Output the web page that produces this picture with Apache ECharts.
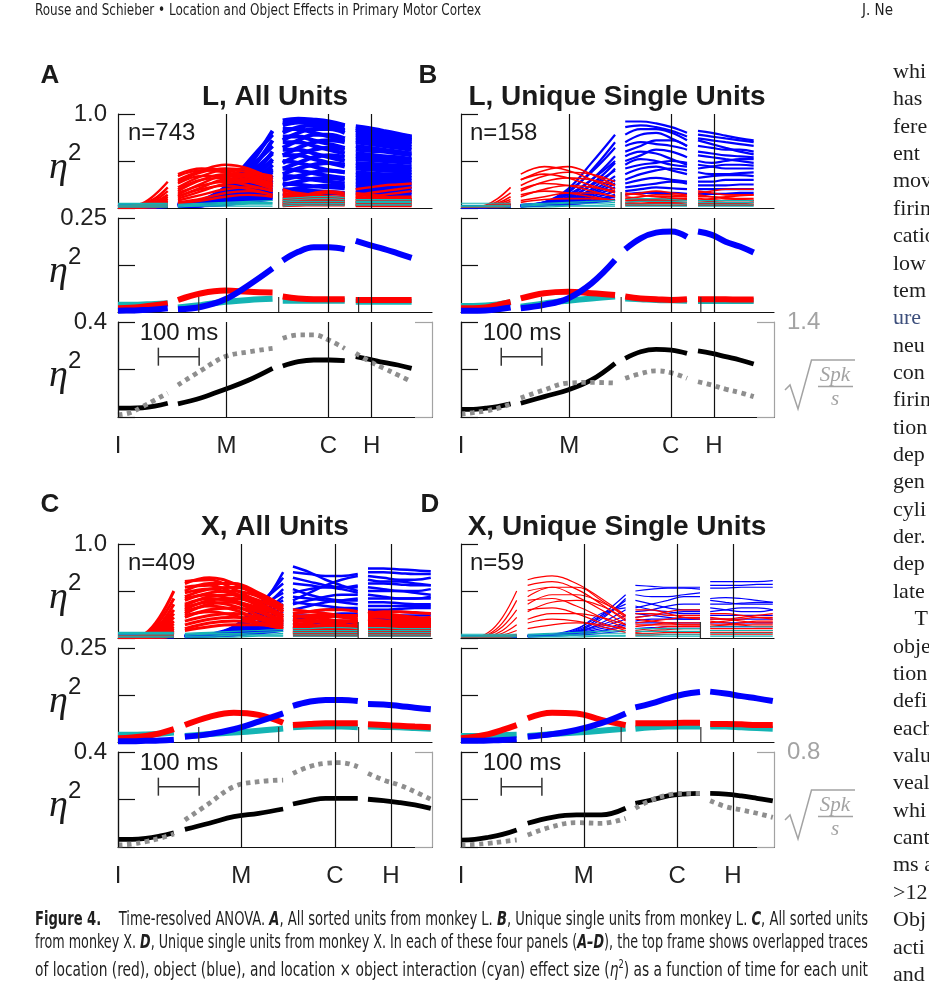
<!DOCTYPE html>
<html>
<head>
<meta charset="utf-8">
<script src="https://cdn.jsdelivr.net/npm/echarts@6.0.0/dist/echarts.min.js"></script>
<style>
  html, body { margin: 0; padding: 0; background: #fff; }
  #page { position: relative; width: 929px; height: 990px; overflow: hidden; background: #fff; }
  #chart { position: absolute; left: 0; top: 0; width: 929px; height: 990px; }
  .fit { position: absolute; white-space: nowrap; display: inline-block; transform-origin: 0 0; color: #1e1e1e; }
  .hdr { font: 15px 'Liberation Sans Narrow', 'DejaVu Sans Condensed', sans-serif; line-height: 18px; top: 1px; }
  .cap { font: 20px 'Liberation Sans Narrow', 'DejaVu Sans Condensed', sans-serif; line-height: 22px; left: 35px; }
  #col { position: absolute; left: 893px; top: 57px; font: 22px 'Liberation Serif', 'DejaVu Serif', serif; line-height: 27.36px; color: #1e1e1e; white-space: pre; }
</style>
</head>
<body>
<div id="page">
  <div id="chart"></div>
  <div class="fit hdr" id="hdr" style="left:35px" data-w="446">Rouse and Schieber &#8226; Location and Object Effects in Primary Motor Cortex</div>
  <div class="fit hdr" style="left:862px">J. Ne</div>
  <div class="fit cap" style="top:907px" data-w="833"><b>Figure 4.</b><span style="display:inline-block;width:24px"></span>Time-resolved ANOVA. <b><i>A</i></b>, All sorted units from monkey L. <b><i>B</i></b>, Unique single units from monkey L. <b><i>C</i></b>, All sorted units</div>
  <div class="fit cap" style="top:930px" data-w="833">from monkey X. <b><i>D</i></b>, Unique single units from monkey X. In each of these four panels (<b><i>A&#8211;D</i></b>), the top frame shows overlapped traces</div>
  <div class="fit cap" style="top:953px" data-w="833">of location (red), object (blue), and location &#215; object interaction (cyan) effect size (<i>&#951;</i><sup style="font-size:12px">2</sup>) as a function of time for each unit</div>
  <div id="col">whi
has
fere
ent
mov
firin
catio
low
tem
<span style="color:#3d4f7c">ure</span>
neu
con
firin
tion
dep
gen
cyli
der.
dep
late
    T
obje
tion
defi
each
valu
veal
whi
cant
ms a
&gt;12
Obj
acti
and</div>
</div>
<script>
// time samples (ms from instruction) for the four aligned segments, 5 per segment
const tL = [0, 30, 60, 90, 122, 147, 205, 263, 321, 379, 404, 442, 480, 518, 556, 583, 617, 651, 686, 720];
const tX = [0, 34, 68, 102, 137, 164, 224, 284, 345, 405, 429, 469, 509, 548, 588, 613, 651, 690, 728, 767];
const evL = { I: 0, M: 266, C: 516, H: 622 };
const evX = { I: 0, M: 302, C: 532, H: 669 };
const midStubs = [198, 394, 590];

// top frames: individual unit traces, eta^2 in percent
const topA_obj = [
  [2,2,2,3,3, 3,6,18,45,82, 93,95,94,92,88, 87,85,82,79,76],
  [2,2,3,3,3, 4,8,22,50,78, 90,92,92,90,87, 85,82,80,78,75],
  [1,1,2,2,3, 3,5,14,38,72, 88,91,90,87,83, 83,80,78,76,73],
  [2,2,2,2,3, 4,7,20,42,66, 80,86,88,86,82, 80,79,77,75,72],
  [1,1,1,2,2, 2,4,12,30,60, 84,84,80,76,72, 78,76,74,72,70],
  [2,2,2,3,3, 3,6,16,36,58, 72,80,84,84,80, 75,73,72,70,68],
  [1,2,2,2,2, 3,5,12,28,52, 76,76,72,68,64, 72,70,69,67,65],
  [2,2,2,2,3, 3,6,15,32,50, 64,72,78,78,74, 70,68,66,64,62],
  [1,1,2,2,2, 2,4,10,24,46, 70,70,66,62,58, 66,64,62,60,58],
  [2,2,2,3,3, 4,7,15,28,42, 56,64,70,72,70, 62,61,60,58,56],
  [1,1,1,2,2, 3,5,11,24,40, 62,62,58,54,50, 58,57,55,54,52],
  [2,2,2,2,3, 3,6,13,26,38, 48,56,62,64,62, 55,54,53,52,51],
  [1,1,2,2,2, 2,4,10,20,35, 56,56,52,48,44, 52,51,50,49,48],
  [2,2,2,3,3, 3,5,12,22,33, 42,48,54,56,54, 48,47,46,45,44],
  [1,1,1,2,2, 2,4,9,18,30, 50,48,44,40,38, 45,44,43,42,41],
  [2,2,2,2,3, 3,5,10,18,28, 36,42,46,48,46, 42,41,40,39,38],
  [1,1,2,2,2, 2,4,8,15,25, 42,40,37,34,32, 38,37,36,36,35],
  [2,2,2,3,3, 3,5,9,16,22, 30,34,38,40,38, 35,34,33,33,32],
  [1,1,1,2,2, 2,3,7,13,20, 34,33,30,28,26, 32,31,30,30,29],
  [2,2,2,2,3, 3,4,8,12,18, 24,28,31,32,30, 28,28,27,27,26],
  [1,1,2,2,2, 2,3,6,10,16, 26,25,23,22,21, 25,25,24,24,23],
  [2,2,2,2,2, 2,3,5,9,14, 18,21,23,24,23, 22,22,21,21,20],
  [1,1,1,2,2, 2,3,5,8,12, 20,19,18,17,16, 19,19,18,18,17],
  [1,1,1,1,2, 2,3,4,7,10, 13,15,16,16,15, 16,16,15,15,14]
];
const topA_loc = [
  [1,2,5,14,28, 30,40,46,42,30, 20,15,12,10,9, 10,12,14,16,18],
  [1,2,4,10,22, 28,38,42,40,32, 16,14,13,12,12, 12,11,10,10,9],
  [1,1,3,8,18, 34,40,38,32,24, 12,10,9,9,10, 14,16,18,20,22],
  [1,1,2,6,14, 36,42,40,34,26, 8,10,14,16,14, 8,8,9,10,10],
  [1,1,2,5,12, 22,34,40,38,34, 18,16,14,12,10, 20,22,24,25,26],
  [1,1,2,4,10, 18,30,36,36,30, 10,12,16,18,16, 12,14,12,10,8],
  [1,1,1,3,8, 26,34,34,30,22, 6,8,10,12,12, 6,6,7,8,8],
  [1,1,1,3,7, 14,26,34,34,28, 14,12,10,8,7, 16,14,12,10,9],
  [1,1,1,2,6, 20,30,32,28,20, 5,6,8,10,11, 5,6,6,7,7],
  [1,1,1,2,5, 12,22,30,30,26, 9,10,12,12,10, 10,10,11,12,12],
  [1,1,1,2,4, 16,24,28,24,18, 4,5,6,7,8, 4,4,5,5,6],
  [1,1,1,2,4, 10,18,26,28,24, 7,8,8,8,8, 8,8,8,8,8],
  [1,1,1,1,3, 12,20,24,20,14, 3,4,5,6,6, 3,3,4,4,4],
  [1,1,1,1,3, 8,14,20,22,18, 5,6,6,5,5, 6,6,6,6,6],
  [1,1,1,2,3, 6,10,16,18,14, 3,3,4,4,4, 3,3,3,3,3],
  [1,1,1,1,2, 5,8,12,14,12, 2,3,3,3,3, 2,2,2,2,2]
];
const topA_int = [
  [5,5,5,5,5, 4,5,6,7,8, 10,11,12,12,11, 9,9,9,9,9],
  [4,4,4,4,4, 3,4,5,6,6, 8,9,10,10,9, 7,7,7,7,7],
  [3,3,3,3,3, 3,3,4,5,5, 6,7,7,7,7, 6,6,6,6,6],
  [2,2,2,2,2, 2,3,3,4,4, 4,5,5,5,5, 4,4,4,4,4],
  [1,1,1,1,1, 1,2,2,2,2, 2,3,3,3,3, 3,3,3,3,3]
];

const topB_obj = [
  [2,2,2,2,3, 3,6,20,48,78, 92,92,90,86,80, 82,80,77,74,72],
  [1,1,2,2,2, 2,5,16,40,70, 86,88,86,82,76, 78,76,74,72,70],
  [2,2,2,3,3, 3,6,18,38,64, 78,84,84,80,72, 74,72,70,68,66],
  [1,1,1,2,2, 3,5,12,30,55, 70,78,80,74,66, 72,68,64,60,57],
  [2,2,2,2,3, 2,4,10,25,48, 66,70,68,66,62, 66,64,62,62,60],
  [1,2,2,2,2, 3,6,14,30,50, 60,66,72,72,66, 60,58,56,55,54],
  [2,2,2,2,3, 3,5,11,24,40, 55,60,58,52,46, 56,54,52,50,48],
  [1,1,1,2,2, 2,4,9,20,42, 50,56,62,60,54, 50,48,50,52,52],
  [2,2,2,2,2, 3,4,8,18,34, 46,52,50,46,44, 46,44,42,42,42],
  [1,1,2,2,2, 2,3,8,16,30, 42,46,48,50,48, 42,44,46,46,45],
  [2,2,2,2,3, 3,4,7,14,26, 36,42,44,40,36, 38,36,36,37,38],
  [1,1,1,2,2, 2,3,6,12,22, 30,36,40,42,40, 32,34,35,35,34],
  [2,2,2,2,2, 2,3,6,10,18, 26,30,32,30,28, 28,28,30,30,30],
  [1,1,1,1,2, 2,3,5,8,14, 22,24,26,28,26, 24,24,24,25,25],
  [2,2,2,2,2, 2,3,4,7,12, 18,20,22,21,20, 20,20,20,20,20],
  [1,1,1,1,2, 2,3,4,6,9, 14,16,16,16,15, 15,15,15,16,16]
];
const topB_loc = [
  [1,1,3,10,22, 30,40,44,36,24, 16,14,12,12,14, 16,18,20,20,20],
  [1,1,2,7,16, 36,44,40,30,20, 10,12,14,14,12, 12,12,11,10,10],
  [1,1,2,5,12, 24,34,38,36,28, 14,16,18,16,14, 18,16,14,14,14],
  [1,1,1,4,9, 30,36,32,24,16, 8,8,10,12,12, 8,10,12,13,14],
  [1,1,1,3,7, 18,28,32,30,24, 12,10,8,8,9, 14,12,10,9,8],
  [1,1,1,2,5, 20,26,24,18,12, 6,7,8,9,9, 6,7,8,8,8],
  [1,1,1,2,4, 12,20,24,22,18, 9,9,9,10,10, 10,9,8,8,8],
  [1,1,1,2,3, 14,18,16,12,8, 5,5,6,6,6, 5,5,5,5,6],
  [1,1,1,1,3, 8,12,16,16,12, 4,4,5,5,4, 4,4,4,4,4],
  [1,1,1,1,2, 6,9,10,10,8, 3,3,3,3,3, 3,3,3,3,3]
];
const topB_int = [
  [5,5,5,5,5, 4,5,6,7,8, 9,10,10,9,8, 8,8,8,8,8],
  [3,3,3,3,3, 3,4,5,5,6, 6,7,7,7,6, 6,6,6,6,6],
  [2,2,2,2,2, 2,3,3,3,4, 4,4,4,4,4, 4,4,4,4,4],
  [1,1,1,1,1, 1,1,2,2,2, 2,2,2,2,2, 2,2,2,2,2]
];

const topC_obj = [
  [2,2,2,2,2, 2,3,8,30,70, 76,70,62,56,50, 74,74,73,72,71],
  [1,1,2,2,2, 2,3,10,34,64, 70,68,66,66,68, 70,70,69,68,68],
  [2,2,2,2,3, 3,4,12,36,58, 64,60,56,54,54, 66,64,62,62,64],
  [1,1,1,2,2, 2,3,9,28,52, 40,48,56,62,66, 62,60,60,58,56],
  [2,2,2,2,2, 2,4,12,32,48, 58,56,54,54,56, 58,58,57,56,56],
  [1,1,1,2,2, 2,3,8,24,44, 48,52,54,52,48, 54,52,50,50,52],
  [2,2,2,2,2, 3,4,10,26,40, 52,46,42,40,40, 50,50,50,48,46],
  [1,1,1,1,2, 2,3,8,22,36, 36,40,44,46,46, 46,44,42,42,44],
  [2,2,2,2,2, 2,3,7,18,32, 44,42,40,38,36, 42,42,42,42,42],
  [1,1,1,2,2, 2,3,6,16,28, 30,34,38,40,42, 38,38,37,36,36],
  [2,2,2,2,2, 2,3,6,14,24, 38,36,34,32,30, 34,34,34,34,34],
  [1,1,1,1,2, 2,3,5,12,20, 26,28,30,32,32, 30,30,31,32,32],
  [2,2,2,2,2, 2,3,5,10,18, 24,24,24,24,24, 28,28,28,27,26],
  [1,1,1,1,2, 2,2,4,9,16, 20,22,24,26,26, 24,24,24,24,24],
  [1,1,1,2,2, 2,3,4,8,14, 18,18,18,18,18, 20,20,20,20,20],
  [1,1,1,1,1, 2,2,4,7,12, 14,15,16,16,16, 16,16,16,16,16],
  [1,1,1,1,1, 1,2,3,6,10, 12,12,12,12,12, 13,13,13,13,13],
  [1,1,1,1,1, 1,2,3,5,8, 9,10,10,10,10, 10,10,10,10,10]
];
const topC_loc = [
  [1,1,5,22,50, 58,64,58,44,28, 24,22,20,18,18, 22,22,20,20,20],
  [1,1,4,18,42, 60,62,52,38,24, 18,20,22,24,24, 16,16,18,20,22],
  [1,1,3,14,36, 50,58,58,48,34, 30,28,26,24,22, 28,26,24,22,20],
  [1,1,3,12,30, 54,56,48,36,20, 14,16,18,18,16, 26,28,28,27,26],
  [1,1,2,10,26, 44,52,54,46,30, 26,28,30,30,28, 14,14,15,16,16],
  [1,1,2,8,22, 48,52,46,34,22, 12,12,14,16,18, 20,18,16,16,18],
  [1,1,2,7,18, 40,48,50,44,32, 20,18,16,14,12, 12,12,13,14,14],
  [1,1,2,6,15, 42,46,40,30,18, 10,12,12,10,10, 24,24,22,20,18],
  [1,1,1,5,12, 34,44,46,40,28, 22,24,24,22,20, 10,10,11,12,12],
  [1,1,1,4,10, 36,42,38,28,16, 8,8,10,12,14, 18,18,18,18,18],
  [1,1,1,3,8, 30,40,42,36,24, 16,14,12,11,10, 8,8,9,10,10],
  [1,1,1,3,7, 32,38,34,24,14, 6,7,8,9,10, 16,16,15,15,14],
  [1,1,1,2,6, 26,36,38,32,22, 18,18,18,18,16, 7,7,7,8,8],
  [1,1,1,2,5, 28,34,30,20,12, 5,6,6,7,8, 12,12,12,12,12],
  [1,1,1,2,4, 22,30,32,28,18, 12,12,12,12,12, 6,6,6,6,6],
  [1,1,1,2,4, 24,28,24,16,10, 4,5,5,6,6, 10,10,10,10,10],
  [1,1,1,2,3, 18,24,26,22,16, 9,9,9,8,8, 5,5,5,5,5],
  [1,1,1,1,3, 14,20,22,20,14, 6,6,7,7,7, 8,8,8,8,8],
  [1,1,1,1,2, 10,16,18,16,12, 4,4,5,5,5, 4,4,4,4,4],
  [1,1,1,1,2, 8,12,14,14,10, 3,3,3,3,3, 3,3,3,3,3]
];
const topC_int = [
  [6,6,6,6,6, 5,6,7,8,9, 10,10,11,11,10, 11,11,10,10,10],
  [5,5,5,5,5, 4,5,5,6,7, 8,8,8,8,8, 8,8,8,8,8],
  [4,4,4,4,4, 3,4,4,4,5, 6,6,6,6,6, 6,6,6,6,6],
  [2,2,2,2,2, 2,2,3,3,3, 4,4,4,4,4, 4,4,4,4,4],
  [1,1,1,1,1, 1,1,1,2,2, 2,2,2,2,2, 2,2,2,2,2]
];

const topD_obj = [
  [2,2,2,2,2, 2,3,6,24,46, 56,55,54,54,54, 60,60,60,60,61],
  [1,1,1,2,2, 2,3,8,22,40, 50,52,53,53,52, 56,56,56,57,57],
  [2,2,2,2,2, 3,4,10,24,36, 46,44,44,46,48, 53,53,54,54,54],
  [1,1,1,1,2, 2,3,7,20,42, 32,36,40,44,44, 42,43,42,40,38],
  [2,2,2,2,2, 2,3,9,26,32, 40,36,32,30,30, 40,38,36,36,36],
  [1,1,1,1,2, 2,3,6,16,30, 28,30,34,36,36, 36,36,37,38,38],
  [2,2,2,2,2, 3,4,7,14,24, 34,30,28,26,26, 32,30,28,28,30],
  [1,1,1,1,1, 2,3,6,12,20, 22,24,26,28,28, 28,30,32,32,30],
  [1,1,1,1,2, 2,3,5,10,16, 26,24,22,20,20, 24,24,24,24,24],
  [1,1,1,1,1, 2,3,5,8,14, 18,20,20,20,20, 20,20,20,20,20],
  [1,1,1,1,1, 2,3,4,7,12, 16,16,16,16,16, 16,16,16,16,16],
  [1,1,1,1,1, 1,2,3,5,8, 10,11,12,12,12, 12,12,12,12,12]
];
const topD_loc = [
  [1,1,6,22,50, 62,66,58,42,24, 26,26,24,24,24, 20,20,22,24,26],
  [1,1,4,16,40, 56,60,52,36,18, 22,24,28,30,30, 26,26,24,22,20],
  [1,1,3,12,30, 44,54,54,40,22, 30,30,26,22,20, 16,18,20,22,22],
  [1,1,2,8,22, 50,54,44,30,14, 16,18,20,22,22, 22,20,18,16,16],
  [1,1,2,5,14, 36,46,46,38,24, 12,14,16,16,16, 12,14,16,18,18],
  [1,1,1,3,8, 40,42,34,22,10, 20,18,16,14,14, 18,16,14,12,12],
  [1,1,1,2,4, 28,38,40,34,20, 8,10,12,12,12, 10,10,10,10,10],
  [1,1,1,2,3, 30,32,26,16,8, 14,14,14,14,14, 14,14,14,14,14],
  [1,1,1,1,2, 20,26,26,22,14, 6,8,9,10,10, 8,8,8,8,8],
  [1,1,1,1,2, 16,20,18,12,6, 5,5,6,6,6, 6,6,6,6,6],
  [1,1,1,1,2, 10,14,16,14,10, 3,3,4,4,4, 4,4,4,4,4]
];
const topD_int = [
  [4,4,4,4,4, 4,5,6,7,8, 10,10,10,10,10, 12,12,12,12,12],
  [3,3,3,3,3, 3,4,4,5,5, 7,7,7,7,7, 8,8,8,8,8],
  [2,2,2,2,2, 2,2,3,3,3, 4,4,4,4,4, 5,5,5,5,5],
  [1,1,1,1,1, 1,1,1,2,2, 2,2,2,2,2, 2,2,2,2,2]
];

// middle frames: mean eta^2
const midA_obj = [0.003,0.004,0.005,0.007,0.010, 0.007,0.014,0.034,0.072,0.116, 0.137,0.160,0.172,0.172,0.167, 0.189,0.178,0.168,0.156,0.144];
const midA_loc = [0.010,0.011,0.014,0.018,0.023, 0.032,0.050,0.057,0.054,0.052, 0.041,0.036,0.034,0.034,0.034, 0.032,0.032,0.032,0.032,0.032];
const midA_int = [0.019,0.019,0.020,0.021,0.023, 0.012,0.019,0.027,0.032,0.035, 0.030,0.030,0.030,0.030,0.030, 0.027,0.027,0.027,0.027,0.027];
const midB_obj = [0.003,0.003,0.004,0.007,0.012, 0.010,0.019,0.036,0.076,0.138, 0.167,0.196,0.211,0.214,0.200, 0.214,0.205,0.187,0.174,0.158];
const midB_loc = [0.010,0.010,0.012,0.019,0.027, 0.036,0.050,0.054,0.050,0.045, 0.041,0.036,0.034,0.032,0.034, 0.034,0.034,0.034,0.033,0.033];
const midB_int = [0.016,0.016,0.017,0.020,0.026, 0.014,0.023,0.030,0.036,0.041, 0.036,0.034,0.032,0.031,0.030, 0.029,0.029,0.029,0.029,0.029];
const midC_obj = [0.002,0.002,0.003,0.004,0.006, 0.014,0.021,0.034,0.054,0.076, 0.096,0.107,0.112,0.112,0.109, 0.101,0.100,0.096,0.091,0.087];
const midC_loc = [0.010,0.012,0.016,0.023,0.034, 0.045,0.067,0.078,0.072,0.051, 0.045,0.048,0.050,0.050,0.050, 0.047,0.045,0.043,0.041,0.039];
const midC_int = [0.019,0.019,0.020,0.022,0.025, 0.016,0.021,0.025,0.030,0.036, 0.039,0.041,0.041,0.041,0.039, 0.041,0.040,0.039,0.037,0.035];
const midD_obj = [0.003,0.003,0.004,0.005,0.007, 0.014,0.021,0.032,0.050,0.076, 0.092,0.103,0.116,0.127,0.133, 0.134,0.129,0.122,0.116,0.109];
const midD_loc = [0.010,0.014,0.021,0.032,0.045, 0.063,0.078,0.076,0.059,0.045, 0.050,0.050,0.050,0.051,0.051, 0.048,0.048,0.047,0.045,0.045];
const midD_int = [0.016,0.016,0.017,0.018,0.019, 0.016,0.021,0.025,0.030,0.036, 0.035,0.039,0.041,0.041,0.041, 0.041,0.041,0.039,0.037,0.035];

// bottom frames: eta^2 (black, left axis) and sqrt firing rate (grey dotted, right axis)
const botA_eta = [0.037,0.037,0.039,0.046,0.058, 0.055,0.081,0.117,0.156,0.205, 0.215,0.233,0.240,0.240,0.237, 0.254,0.243,0.230,0.219,0.205];
const botA_rate = [0.03,0.064,0.152,0.25,0.35, 0.47,0.69,0.89,0.96,1.01, 1.16,1.21,1.21,1.13,1.01, 0.94,0.82,0.72,0.62,0.52];
const botB_eta = [0.032,0.032,0.037,0.044,0.055, 0.058,0.086,0.114,0.156,0.226, 0.247,0.275,0.285,0.282,0.268, 0.278,0.268,0.254,0.240,0.223];
const botB_rate = [0.044,0.064,0.088,0.128,0.19, 0.28,0.40,0.50,0.51,0.50, 0.57,0.64,0.68,0.65,0.57, 0.52,0.47,0.41,0.36,0.30];
const botC_eta = [0.032,0.032,0.036,0.046,0.060, 0.074,0.100,0.128,0.142,0.160, 0.181,0.195,0.205,0.205,0.205, 0.201,0.195,0.187,0.177,0.163];
const botC_rate = [0.017,0.025,0.045,0.073,0.109, 0.227,0.368,0.508,0.550,0.564, 0.620,0.676,0.705,0.710,0.676, 0.620,0.564,0.522,0.466,0.401];
const botD_eta = [0.029,0.032,0.041,0.053,0.072, 0.100,0.125,0.135,0.135,0.163, 0.184,0.198,0.215,0.223,0.226, 0.226,0.223,0.215,0.205,0.194];
const botD_rate = [0.017,0.022,0.031,0.045,0.059, 0.101,0.171,0.205,0.199,0.241, 0.326,0.396,0.438,0.452,0.452, 0.390,0.340,0.312,0.284,0.250];

const RED = '#ff0000', BLUE = '#0000ff', CYAN = '#14b4b4', GREY = '#8e8e8e', LGREY = '#a3a3a3';

const panels = [
  { left: 118, width: 314, top: 114, t: tL, ev: evL, top3: [topA_obj, topA_loc, topA_int], mid: [midA_int, midA_loc, midA_obj], bot: [botA_eta, botA_rate], rateMax: 1.4, showLeft: true, showRight: false, topStub: 394, traceW: [4, 2.4, 1.2] },
  { left: 461, width: 313, top: 114, t: tL, ev: evL, top3: [topB_obj, topB_loc, topB_int], mid: [midB_int, midB_loc, midB_obj], bot: [botB_eta, botB_rate], rateMax: 1.4, showLeft: false, showRight: true, topStub: 394, traceW: [2.2, 1.6, 1.1] },
  { left: 118, width: 314, top: 544, t: tX, ev: evX, top3: [topC_obj, topC_loc, topC_int], mid: [midC_int, midC_loc, midC_obj], bot: [botC_eta, botC_rate], rateMax: 0.8, showLeft: true, showRight: false, topStub: 589, traceW: [2.5, 3, 1.2] },
  { left: 461, width: 313, top: 544, t: tX, ev: evX, top3: [topD_obj, topD_loc, topD_int], mid: [midD_int, midD_loc, midD_obj], bot: [botD_eta, botD_rate], rateMax: 0.8, showLeft: false, showRight: true, topStub: 589, traceW: [1.2, 1.2, 1.1] }
];

// break the line between the four aligned segments
function segs(t, vals, k) {
  const d = [];
  vals.forEach((v, i) => {
    if (i > 0 && i % 5 === 0) d.push([(t[i - 1] + t[i]) / 2, '-']);
    d.push([t[i], v * k]);
  });
  return d;
}

const grid = [], xAxis = [], yAxis = [], series = [];
const frameOff = [0, 104, 208], frameH = [94, 94, 95];
const yMax = [1, 0.25, 0.4], yTopLabel = ['1.0', '0.25', '0.4'];

panels.forEach(p => {
  for (let f = 0; f < 3; f++) {
    const g = grid.length;
    grid.push({ left: p.left, top: p.top + frameOff[f], width: p.width, height: frameH[f] });
    xAxis.push({
      type: 'value', gridIndex: g, min: 0, max: 770,
      axisLine: { show: true, lineStyle: { color: '#111', width: 1.2 } },
      axisTick: { show: false }, axisLabel: { show: false }, splitLine: { show: false }
    });
    const yl = yAxis.length;
    yAxis.push({
      type: 'value', gridIndex: g, min: 0, max: yMax[f], interval: yMax[f] / 2,
      axisLine: { show: true, lineStyle: { color: '#111', width: 1.2 } },
      axisTick: { show: true, inside: true, length: 17, lineStyle: { color: '#111', width: 1.2 } },
      splitLine: { show: false },
      axisLabel: {
        show: p.showLeft, margin: 11, fontSize: 24, color: '#222', fontFamily: 'Liberation Sans',
        formatter: v => Math.abs(v - yMax[f]) < 1e-9 ? yTopLabel[f] : ''
      }
    });
    let yr = yl;
    if (f === 2) {
      yr = yAxis.length;
      yAxis.push({
        type: 'value', gridIndex: g, position: 'right', min: 0, max: p.rateMax, interval: p.rateMax,
        axisLine: { show: true, lineStyle: { color: LGREY, width: 1.2 } },
        axisTick: { show: true, inside: true, length: 17, lineStyle: { color: LGREY, width: 1.2 } },
        splitLine: { show: false },
        axisLabel: {
          show: p.showRight, margin: 13, fontSize: 24, color: LGREY, fontFamily: 'Liberation Sans',
          formatter: v => Math.abs(v - p.rateMax) < 1e-9 ? String(p.rateMax) : ''
        }
      });
    }

    // event lines I, M, C, H
    const evData = (f === 2 ? [{ xAxis: p.ev.I, name: 'I' }] : []).concat(
      ['M', 'C', 'H'].map(k => ({ xAxis: p.ev[k], name: k })));
    series.push({
      type: 'line', xAxisIndex: g, yAxisIndex: yl, data: [], z: f === 0 ? 1 : 6, silent: true,
      markLine: {
        silent: true, symbol: ['none', 'none'], animation: false,
        lineStyle: { color: '#111', width: 1.2, type: 'solid' },
        label: { show: f === 2, position: 'start', formatter: '{b}', distance: 17, fontSize: 24, color: '#222', fontFamily: 'Liberation Sans' },
        emphasis: { disabled: true },
        data: evData
      }
    });

    if (f === 0) {
      [BLUE, RED, CYAN].forEach((col, ci) => {
        p.top3[ci].forEach(tr => series.push({
          type: 'line', xAxisIndex: g, yAxisIndex: yl, data: segs(p.t, tr, 0.01),
          smooth: 0.4, showSymbol: false, silent: true, z: 2,
          lineStyle: { color: col, width: p.traceW[ci] }
        }));
      });
      series.push({
        type: 'line', xAxisIndex: g, yAxisIndex: yl, data: [[p.topStub, 0], [p.topStub, 0.17]],
        showSymbol: false, silent: true, z: 3, lineStyle: { color: '#333', width: 1.2 }
      });
    } else if (f === 1) {
      [CYAN, RED, BLUE].forEach((col, ci) => series.push({
        type: 'line', xAxisIndex: g, yAxisIndex: yl, data: segs(p.t, p.mid[ci], 1),
        smooth: 0.4, showSymbol: false, silent: true, z: 2,
        lineStyle: { color: col, width: 6 }
      }));
      midStubs.forEach(s => series.push({
        type: 'line', xAxisIndex: g, yAxisIndex: yl, data: [[s, 0], [s, 0.04]],
        showSymbol: false, silent: true, z: 3, lineStyle: { color: '#333', width: 1.2 }
      }));
    } else {
      series.push({
        type: 'line', xAxisIndex: g, yAxisIndex: yl, data: segs(p.t, p.bot[0], 1),
        smooth: 0.4, showSymbol: false, silent: true, z: 2,
        lineStyle: { color: '#000', width: 4.8 }
      });
      series.push({
        type: 'line', xAxisIndex: g, yAxisIndex: yr, data: segs(p.t, p.bot[1], 1),
        smooth: 0.4, showSymbol: false, silent: true, z: 3,
        lineStyle: { color: GREY, width: 4.8, type: [4.5, 4.5], cap: 'butt' }
      });
      // 100 ms scale bar
      series.push({
        type: 'line', xAxisIndex: g, yAxisIndex: yl, data: [[99, 0.254], [199, 0.254]],
        symbol: 'rect', symbolSize: [1.5, 18], showSymbol: true, silent: true, z: 4,
        itemStyle: { color: '#333' }, lineStyle: { color: '#333', width: 1.5 }
      });
    }
  }
});

function txt(x, y, text, o) {
  o = o || {};
  const align = o.align || 'left';
  return {
    type: 'text', x: x, y: y, silent: true, z: 10,
    style: {
      text: text, fill: o.fill || '#1a1a1a',
      fontFamily: o.fontFamily || 'Liberation Sans', fontSize: o.fontSize || 24,
      fontWeight: o.fontWeight || 'normal', fontStyle: o.fontStyle || 'normal',
      align: align, textAlign: align, verticalAlign: 'middle', textVerticalAlign: 'middle'
    }
  };
}

const graphic = [];
[['A', 50, 76], ['B', 428, 76], ['C', 50, 505], ['D', 430, 505]].forEach(a =>
  graphic.push(txt(a[1], a[2], a[0], { fontSize: 26, fontWeight: 'bold', align: 'center' })));
[['L, All Units', 275, 97], ['L, Unique Single Units', 617, 97], ['X, All Units', 275, 527], ['X, Unique Single Units', 617, 527]].forEach(a =>
  graphic.push(txt(a[1], a[2], a[0], { fontSize: 28, fontWeight: 'bold', align: 'center' })));
[['n=743', 128, 133], ['n=158', 470, 133], ['n=409', 128, 563], ['n=59', 470, 563]].forEach(a =>
  graphic.push(txt(a[1], a[2], a[0], { fontSize: 24 })));
[[179, 333], [522, 333], [179, 763], [522, 763]].forEach(a =>
  graphic.push(txt(a[0], a[1], '100 ms', { fontSize: 24, align: 'center' })));
[161, 265, 369.5, 591, 695, 799.5].forEach(c => {
  graphic.push(txt(49, c + 7, 'η', { fontFamily: 'Liberation Serif', fontStyle: 'italic', fontSize: 38 }));
  graphic.push(txt(68, c - 8, '2', { fontSize: 24 }));
});
[0, 430].forEach(dy => {
  graphic.push({ type: 'polyline', silent: true, z: 10, shape: { points: [[785, 390 + dy], [790, 385 + dy], [798, 409 + dy], [811.5, 360 + dy], [855, 360 + dy]] }, style: { stroke: LGREY, lineWidth: 1.5, fill: null } });
  graphic.push(txt(835, 375 + dy, 'Spk', { fontFamily: 'Liberation Serif', fontStyle: 'italic', fontSize: 21, fill: LGREY, align: 'center' }));
  graphic.push({ type: 'line', silent: true, z: 10, shape: { x1: 818, y1: 386.5 + dy, x2: 853, y2: 386.5 + dy }, style: { stroke: LGREY, lineWidth: 1.3 } });
  graphic.push(txt(835, 399 + dy, 's', { fontFamily: 'Liberation Serif', fontStyle: 'italic', fontSize: 21, fill: LGREY, align: 'center' }));
});

const chart = echarts.init(document.getElementById('chart'), null, { renderer: 'canvas' });
chart.setOption({
  animation: false,
  backgroundColor: '#fff',
  grid: grid, xAxis: xAxis, yAxis: yAxis, series: series, graphic: graphic
});

// fit text lines to their measured widths
document.querySelectorAll('[data-w]').forEach(el => {
  const w = el.getBoundingClientRect().width;
  const target = parseFloat(el.getAttribute('data-w'));
  if (w > 0) el.style.transform = 'scaleX(' + (target / w) + ')';
});
</script>
</body>
</html>
